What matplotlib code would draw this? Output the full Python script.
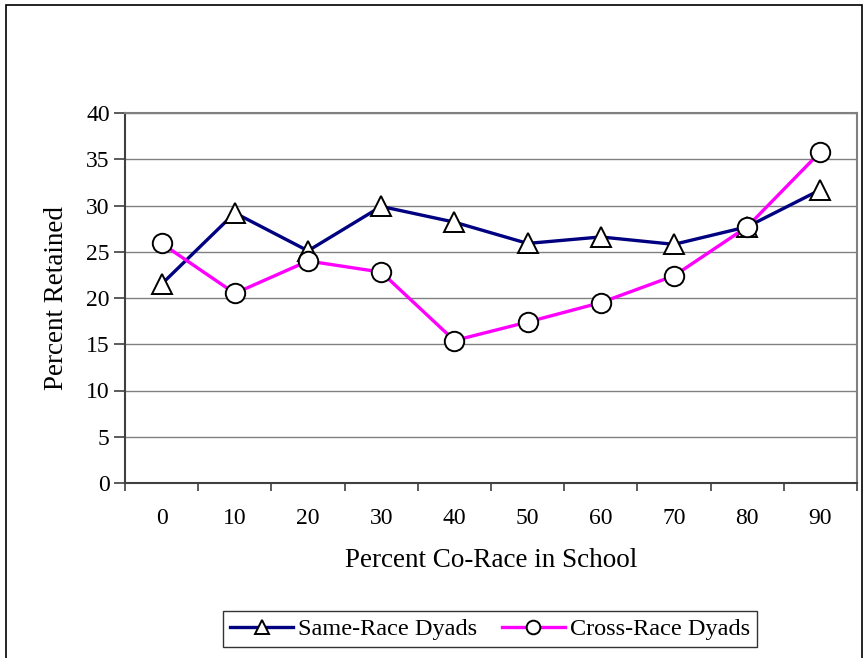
import matplotlib
matplotlib.use("Agg")
import matplotlib.pyplot as plt
from matplotlib.patches import Rectangle

# data
co_race = ["0", "10", "20", "30", "40", "50", "60", "70", "80", "90"]
same_race = [21.5, 29.2, 25.1, 29.9, 28.2, 25.9, 26.6, 25.8, 27.7, 31.7]
cross_race = [25.9, 20.5, 24.0, 22.8, 15.4, 17.4, 19.5, 22.4, 27.7, 35.8]
y_ticks = [0, 5, 10, 15, 20, 25, 30, 35, 40]

plt.rcParams['font.family'] = ['Liberation Serif', 'DejaVu Serif']

fig = plt.figure(figsize=(8.64, 6.58), dpi=100)
ax = fig.add_axes([125/864, 1 - 483/658, (857 - 125)/864, (483 - 113)/658])

x = list(range(len(co_race)))
ax.plot(x, same_race, color='#000080', lw=2.4, marker='^', ms=14,
        mfc='white', mec='black', mew=1.4, label='Same-Race Dyads', zorder=3)
ax.plot(x, cross_race, color='#ff00ff', lw=2.4, marker='o', ms=14,
        mfc='white', mec='black', mew=1.4, label='Cross-Race Dyads', zorder=4)

ax.set_xlim(-0.5, len(co_race) - 0.5)
ax.set_ylim(0, 40)
ax.set_yticks(y_ticks)
ax.set_xticks(x)
ax.set_xticklabels(co_race)
ax.set_xticks([i - 0.5 for i in range(len(co_race) + 1)], minor=True)
ax.tick_params(axis='x', which='major', length=0, pad=18, labelsize=17)
ax.tick_params(axis='x', which='minor', length=6, width=1.2, color='#404040', direction='out')
ax.tick_params(axis='y', length=8, width=1.2, color='#404040', labelsize=17, pad=3)

ax.yaxis.grid(True, color='#808080', lw=1)
ax.set_axisbelow(True)
for side in ['left', 'bottom']:
    ax.spines[side].set_color('#404040')
    ax.spines[side].set_linewidth(1.5)
for side in ['top', 'right']:
    ax.spines[side].set_color('#808080')
    ax.spines[side].set_linewidth(1.5)

ax.set_xlabel('Percent Co-Race in School', fontsize=19.5, labelpad=14)
ax.set_ylabel('Percent Retained', fontsize=19.5, labelpad=12)

leg = fig.legend(loc='center', bbox_to_anchor=(490/864, 1 - 629/658), ncol=2,
                 fontsize=17.5, markerscale=0.7, handlelength=2.6, columnspacing=1.0,
                 handletextpad=0.2, frameon=True, fancybox=False, borderpad=0.3,
                 borderaxespad=0)
leg.get_frame().set_edgecolor('black')
leg.get_frame().set_linewidth(1.0)

# outer chart border
fig.patches.append(Rectangle((6/864, -0.05), (862 - 6)/864, 1.05 - 5/658,
                             transform=fig.transFigure, fill=False,
                             edgecolor='black', lw=1.2))

fig.savefig('out.png', dpi=100)
